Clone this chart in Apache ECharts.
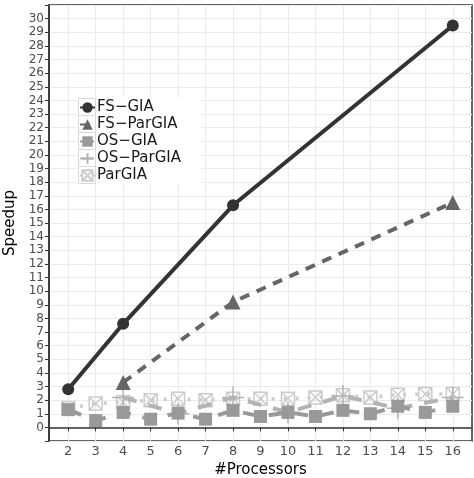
<!DOCTYPE html>
<html>
<head>
<meta charset="utf-8">
<script src="https://cdn.jsdelivr.net/npm/echarts@6/dist/echarts.min.js"></script>
<style>
  html, body { margin: 0; padding: 0; background: #fff; }
  #myChart { width: 474px; height: 478px; }
</style>
</head>
<body>
<div id="myChart"></div>
<script>
// processors on the x axis
var xTicks = [2, 3, 4, 5, 6, 7, 8, 9, 10, 11, 12, 13, 14, 15, 16];

var fsGiaX = [2, 4, 8, 16];
var fsGia = [2.8, 7.6, 16.3, 29.5];

var fsParGiaX = [4, 8, 16];
var fsParGia = [3.3, 9.2, 16.5];

var osGiaX = [2, 3, 4, 5, 6, 7, 8, 9, 10, 11, 12, 13, 14, 15, 16];
var osGia = [1.3, 0.5, 1.1, 0.6, 1.05, 0.6, 1.25, 0.8, 1.1, 0.8, 1.25, 1.0, 1.55, 1.1, 1.55];

var osParGiaX = [4, 6, 8, 10, 12, 14, 16];
var osParGia = [2.2, 1.0, 2.2, 1.1, 2.3, 1.4, 2.2];

var parGiaX = [2, 3, 4, 5, 6, 7, 8, 9, 10, 11, 12, 13, 14, 15, 16];
var parGia = [1.4, 1.75, 1.85, 2.0, 2.1, 2.0, 2.1, 2.1, 2.1, 2.2, 2.35, 2.2, 2.4, 2.45, 2.45];

var seriesNames = ['FS\u2212GIA', 'FS\u2212ParGIA', 'OS\u2212GIA', 'OS\u2212ParGIA', 'ParGIA'];

var yTicks = [];
for (var i = 0; i <= 30; i++) {
    yTicks.push(i);
}

function pairs(xs, ys) {
    var out = [];
    for (var i = 0; i < xs.length; i++) {
        out.push([xs[i], ys[i]]);
    }
    return out;
}

var myChart = echarts.init(document.getElementById('myChart'));
var font = 'DejaVu Sans, sans-serif';

// legend key boxes (ggplot style), drawn behind the legend
var keyH = 17;
var legendGraphics = [{
    type: 'rect',
    z: 3,
    shape: { x: 77, y: 97, width: 124, height: keyH * seriesNames.length + 2 },
    style: { fill: '#fff', stroke: null }
}];
for (var k = 0; k < seriesNames.length; k++) {
    legendGraphics.push({
        type: 'rect',
        z: 3,
        shape: { x: 78.5, y: 98.5 + k * keyH, width: 17, height: keyH },
        style: { fill: '#fff', stroke: '#d9d9d9', lineWidth: 1 }
    });
}

var option = {
    animation: false,
    backgroundColor: '#fff',
    graphic: legendGraphics,
    grid: {
        left: 49,
        top: 5,
        right: 2,
        bottom: 37,
        outerBoundsMode: 'none',
        show: true,
        borderColor: '#333',
        borderWidth: 1.5
    },
    legend: {
        orient: 'vertical',
        left: 79,
        top: 99,
        padding: 0,
        itemWidth: 15,
        itemHeight: 13,
        itemGap: 0,
        z: 5,
        textStyle: { fontFamily: font, fontSize: 15, color: '#1a1a1a', lineHeight: keyH, height: keyH, padding: [0, 0, 0, -3] },
        data: seriesNames
    },
    xAxis: {
        type: 'value',
        min: 1.3,
        max: 16.7,
        name: '#Processors',
        nameLocation: 'middle',
        nameGap: 18,
        nameTextStyle: { fontFamily: font, fontSize: 15, color: '#000' },
        axisLine: { show: true, lineStyle: { color: '#333', width: 1.5 } },
        axisTick: { show: true, length: 4, customValues: xTicks, lineStyle: { color: '#333' } },
        axisLabel: { customValues: xTicks, fontFamily: font, fontSize: 13, color: '#4d4d4d', margin: 4 },
        splitLine: { show: true, customValues: xTicks, lineStyle: { color: '#ebebeb', width: 1 } }
    },
    yAxis: {
        type: 'value',
        min: -1,
        max: 31,
        interval: 1,
        name: 'Speedup',
        nameLocation: 'middle',
        nameGap: 27,
        nameTextStyle: { fontFamily: font, fontSize: 15, color: '#000' },
        axisLine: { show: true, lineStyle: { color: '#333', width: 1.5 } },
        axisTick: { show: true, length: 4, lineStyle: { color: '#333' } },
        axisLabel: {
            fontFamily: font, fontSize: 12, color: '#4d4d4d', margin: 5,
            formatter: function (v) {
                return yTicks.indexOf(v) >= 0 ? String(v) : '';
            }
        },
        splitLine: { show: true, lineStyle: { color: '#ebebeb', width: 1 } }
    },
    series: [
        {
            name: 'ParGIA',
            type: 'line',
            z: 2,
            data: pairs(parGiaX, parGia),
            symbol: 'path://M0,0H10V10H0Z M0,0L10,10 M10,0L0,10',
            symbolSize: 13,
            itemStyle: { color: 'rgba(255,255,255,0)', borderColor: '#cccccc', borderWidth: 1.5 },
            lineStyle: { color: '#cccccc', width: 3.5, type: [3, 9] }
        },
        {
            name: 'OS\u2212ParGIA',
            type: 'line',
            z: 3,
            data: pairs(osParGiaX, osParGia),
            symbol: 'path://M5,0V10M0,5H10',
            symbolSize: 22,
            itemStyle: { color: 'rgba(255,255,255,0)', borderColor: '#b3b3b3', borderWidth: 1.5 },
            lineStyle: { color: '#b3b3b3', width: 4, type: [14, 12] }
        },
        {
            name: 'OS\u2212GIA',
            type: 'line',
            z: 4,
            data: pairs(osGiaX, osGia),
            symbol: 'rect',
            symbolSize: 13,
            itemStyle: { color: '#999999' },
            lineStyle: { color: '#999999', width: 4, type: [14, 12] }
        },
        {
            name: 'FS\u2212ParGIA',
            type: 'line',
            z: 5,
            data: pairs(fsParGiaX, fsParGia),
            symbol: 'triangle',
            symbolSize: 15,
            itemStyle: { color: '#666666' },
            lineStyle: { color: '#666666', width: 4, type: [10, 8] }
        },
        {
            name: 'FS\u2212GIA',
            type: 'line',
            z: 6,
            data: pairs(fsGiaX, fsGia),
            symbol: 'circle',
            symbolSize: 12,
            itemStyle: { color: '#333333' },
            lineStyle: { color: '#333333', width: 4 }
        }
    ]
};
myChart.setOption(option);
</script>
</body>
</html>
